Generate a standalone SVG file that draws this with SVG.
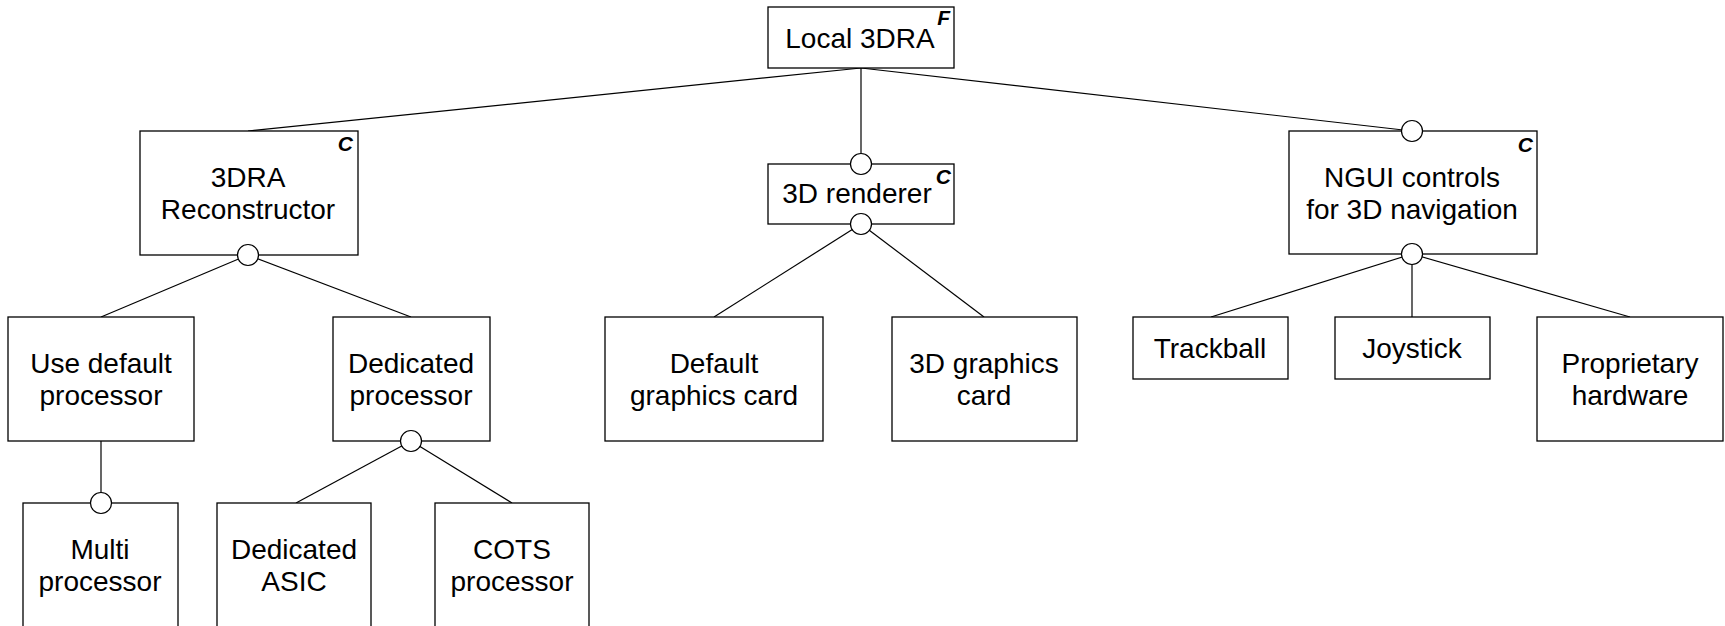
<svg xmlns="http://www.w3.org/2000/svg" width="1725" height="626" viewBox="0 0 1725 626">
<style>
.box{fill:#fff;stroke:#000;stroke-width:1.3}
.ln{stroke:#000;stroke-width:1.2;fill:none}
.opt{fill:#fff;stroke:#000;stroke-width:1.2}
.t{font-family:"Liberation Sans",Arial,sans-serif;font-size:28px;fill:#000;text-anchor:middle}
.m{font-family:"Liberation Sans",Arial,sans-serif;font-size:21px;font-weight:bold;font-style:italic;fill:#000;text-anchor:end}
</style>
<rect width="1725" height="626" fill="#fff"/>
<g id="connectors">
<line class="ln" x1="861" y1="68" x2="248" y2="131"/>
<line class="ln" x1="861" y1="68" x2="861" y2="164"/>
<line class="ln" x1="861" y1="68" x2="1412" y2="131"/>
<line class="ln" x1="248" y1="255" x2="101" y2="317"/>
<line class="ln" x1="248" y1="255" x2="411" y2="317"/>
<line class="ln" x1="101" y1="441" x2="101" y2="503"/>
<line class="ln" x1="411" y1="441" x2="296" y2="503"/>
<line class="ln" x1="411" y1="441" x2="512" y2="503"/>
<line class="ln" x1="861" y1="224" x2="714" y2="317"/>
<line class="ln" x1="861" y1="224" x2="984" y2="317"/>
<line class="ln" x1="1412" y1="254" x2="1211" y2="317"/>
<line class="ln" x1="1412" y1="254" x2="1412" y2="317"/>
<line class="ln" x1="1412" y1="254" x2="1630" y2="317"/>
</g>
<g id="local3dra">
<rect class="box" x="768" y="7" width="186" height="61"/>
<text class="t" x="860" y="48">Local 3DRA</text>
<text class="m" x="950" y="25">F</text>
</g>
<g id="reconstructor">
<rect class="box" x="140" y="131" width="218" height="124"/>
<text class="t" x="248" y="187">3DRA</text>
<text class="t" x="248" y="219">Reconstructor</text>
<text class="m" x="353" y="151">C</text>
</g>
<g id="renderer">
<rect class="box" x="768" y="164" width="186" height="60"/>
<text class="t" x="857" y="203">3D renderer</text>
<text class="m" x="951" y="184">C</text>
</g>
<g id="ngui">
<rect class="box" x="1289" y="131" width="248" height="123"/>
<text class="t" x="1412" y="187">NGUI controls</text>
<text class="t" x="1412" y="219">for 3D navigation</text>
<text class="m" x="1533" y="152">C</text>
</g>
<g id="usedefault">
<rect class="box" x="8" y="317" width="186" height="124"/>
<text class="t" x="101" y="373">Use default</text>
<text class="t" x="101" y="405">processor</text>
</g>
<g id="dedicated">
<rect class="box" x="333" y="317" width="157" height="124"/>
<text class="t" x="411" y="373">Dedicated</text>
<text class="t" x="411" y="405">processor</text>
</g>
<g id="multi">
<rect class="box" x="23" y="503" width="155" height="140"/>
<text class="t" x="100" y="559">Multi</text>
<text class="t" x="100" y="591">processor</text>
</g>
<g id="asic">
<rect class="box" x="217" y="503" width="154" height="140"/>
<text class="t" x="294" y="559">Dedicated</text>
<text class="t" x="294" y="591">ASIC</text>
</g>
<g id="cots">
<rect class="box" x="435" y="503" width="154" height="140"/>
<text class="t" x="512" y="559">COTS</text>
<text class="t" x="512" y="591">processor</text>
</g>
<g id="defaultcard">
<rect class="box" x="605" y="317" width="218" height="124"/>
<text class="t" x="714" y="373">Default</text>
<text class="t" x="714" y="405">graphics card</text>
</g>
<g id="card3d">
<rect class="box" x="892" y="317" width="185" height="124"/>
<text class="t" x="984" y="373">3D graphics</text>
<text class="t" x="984" y="405">card</text>
</g>
<g id="trackball">
<rect class="box" x="1133" y="317" width="155" height="62"/>
<text class="t" x="1210" y="358">Trackball</text>
</g>
<g id="joystick">
<rect class="box" x="1335" y="317" width="155" height="62"/>
<text class="t" x="1412" y="358">Joystick</text>
</g>
<g id="proprietary">
<rect class="box" x="1537" y="317" width="186" height="124"/>
<text class="t" x="1630" y="373">Proprietary</text>
<text class="t" x="1630" y="405">hardware</text>
</g>
<g id="markers">
<circle class="opt" cx="861" cy="164" r="10.5"/>
<circle class="opt" cx="1412" cy="131" r="10.5"/>
<circle class="opt" cx="248" cy="255" r="10.5"/>
<circle class="opt" cx="861" cy="224" r="10.5"/>
<circle class="opt" cx="1412" cy="254" r="10.5"/>
<circle class="opt" cx="411" cy="441" r="10.5"/>
<circle class="opt" cx="101" cy="503" r="10.5"/>
</g>
</svg>
